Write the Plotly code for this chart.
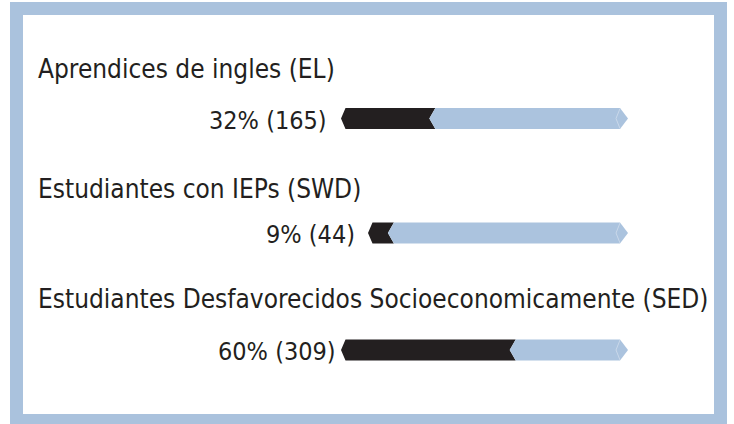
import plotly.graph_objects as go

# ---- data ----
categories = ["Aprendices de ingles (EL)",
              "Estudiantes con IEPs (SWD)",
              "Estudiantes Desfavorecidos Socioeconomicamente (SED)"]
percents = [32, 9, 60]
counts = [165, 44, 309]
value_labels = [f"{p}% ({c})" for p, c in zip(percents, counts)]

# ---- layout constants (pixels) ----
W, H = 734, 424
bar_x0 = [341, 368, 341]
bar_x1 = [628, 628, 628]
bar_yc = [118.5, 233, 350]
bar_half = 10.5
title_y = [68.5, 188.5, 298.5]
num_right = [329, 357, 338]
title_x = 36

DARK = "#231f20"
LIGHT = "#abc3de"
FRAME = "#aac2dd"
HILITE = "#c9d8ea"
FONT = "DejaVu Sans Condensed, sans-serif"

fig = go.Figure()
layout_axes = {}
for i, (cat, p) in enumerate(zip(categories, percents)):
    xa = "x" if i == 0 else f"x{i+1}"
    wpx = bar_x1[i] - bar_x0[i]
    u = 100.0 / wpx  # units per pixel
    yc, top, bot = bar_yc[i], bar_yc[i] - bar_half, bar_yc[i] + bar_half
    left_tip = 4.5 * u
    j_mid = p - 3.5 * u
    j_edge = p + 2.5 * u
    right_tip = 8 * u
    # dark segment
    fig.add_trace(go.Scatter(
        x=[0, left_tip, j_edge, j_mid, j_edge, left_tip, 0],
        y=[yc, top, top, yc, bot, bot, yc],
        fill="toself", fillcolor=DARK, line=dict(width=0), mode="lines",
        xaxis=xa, yaxis="y", hoverinfo="skip"))
    # light segment
    fig.add_trace(go.Scatter(
        x=[j_mid, j_edge, 100 - right_tip, 100, 100 - right_tip, j_edge, j_mid],
        y=[yc, top, top, yc, bot, bot, yc],
        fill="toself", fillcolor=LIGHT, line=dict(width=0), mode="lines",
        xaxis=xa, yaxis="y", hoverinfo="skip"))
    # faint highlight line near right end
    fig.add_trace(go.Scatter(
        x=[100 - right_tip, 100 - right_tip - 4 * u, 100 - right_tip],
        y=[top + 0.5, yc, bot - 0.5],
        mode="lines", line=dict(color=HILITE, width=1),
        xaxis=xa, yaxis="y", hoverinfo="skip"))
    key = "xaxis" if i == 0 else f"xaxis{i+1}"
    layout_axes[key] = dict(domain=[bar_x0[i] / W, bar_x1[i] / W], range=[0, 100],
                            visible=False, anchor="y", fixedrange=True)
    # category title
    fig.add_annotation(text=cat, x=title_x / W, xref="paper", y=title_y[i], yref="y",
                       xanchor="left", yanchor="middle", showarrow=False,
                       font=dict(family=FONT, size=26, color=DARK))
    # value label
    fig.add_annotation(text=value_labels[i], x=num_right[i] / W, xref="paper",
                       y=yc + 1.5, yref="y", xanchor="right", yanchor="middle",
                       showarrow=False, font=dict(family=FONT, size=25, color=DARK))

# frame
fig.add_shape(type="rect", xref="paper", yref="y", x0=10 / W, x1=727 / W, y0=2, y1=430,
              fillcolor=FRAME, line=dict(width=0), layer="below")
fig.add_shape(type="rect", xref="paper", yref="y", x0=23 / W, x1=714 / W, y0=15, y1=414,
              fillcolor="white", line=dict(width=0), layer="below")

fig.update_layout(
    width=W, height=H, autosize=False,
    margin=dict(l=0, r=0, t=0, b=0),
    paper_bgcolor="white", plot_bgcolor="rgba(0,0,0,0)",
    showlegend=False,
    yaxis=dict(range=[H, 0], domain=[0, 1], visible=False, fixedrange=True),
    **layout_axes,
)
fig.write_html("out.html", config={"displayModeBar": False},
               post_script="document.body.style.margin='0';")
